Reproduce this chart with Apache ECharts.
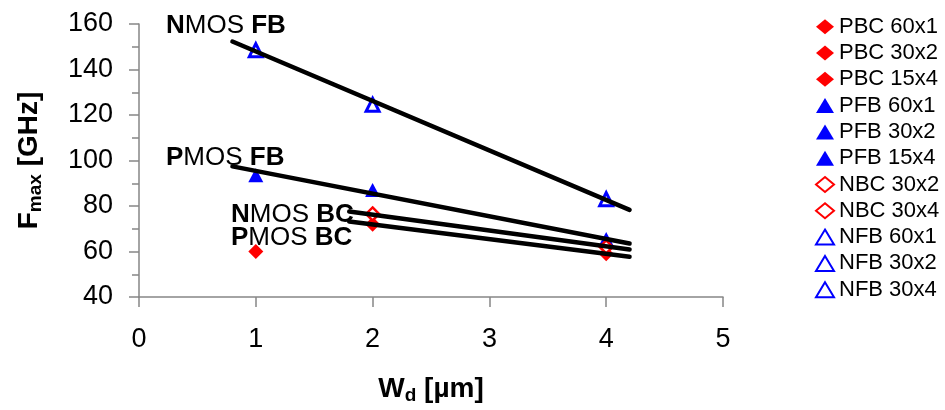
<!DOCTYPE html>
<html>
<head>
<meta charset="utf-8">
<script src="https://cdn.jsdelivr.net/npm/echarts@6/dist/echarts.min.js"></script>
<style>
html,body{margin:0;padding:0;background:#fff;}
#chart{width:945px;height:410px;}
</style>
</head>
<body>
<div id="chart"></div>
<script>
// ---- data ----
const seriesNames = ['PBC 60x1','PBC 30x2','PBC 15x4','PFB 60x1','PFB 30x2','PFB 15x4','NBC 30x2','NBC 30x4','NFB 60x1','NFB 30x2','NFB 30x4'];
const seriesX = [1, 2, 4, 1, 2, 4, 2, 4, 1, 2, 4];
const seriesY = [60, 72, 59, 93.5, 87, 65.5, 76.5, 62, 148.5, 124.5, 83];
const seriesKind = ['pbc','pbc','pbc','pfb','pfb','pfb','nbc','nbc','nfb','nfb','nfb'];

const trendNames = ['NMOS FB', 'PMOS FB', 'NMOS BC', 'PMOS BC'];
const trendX = [[0.8, 4.2], [0.8, 4.2], [1.8, 4.2], [1.8, 4.2]];
const trendY = [[152.3, 78.3], [97.4, 63.5], [77.6, 60.9], [73.2, 57.7]];

const xTicks = [0, 1, 2, 3, 4, 5];
const yTicks = [40, 60, 80, 100, 120, 140, 160];

// ---- styles ----
const FONT = 'Liberation Sans, Arial, Helvetica, sans-serif';
const kindStyle = {
  pbc: {symbol: 'diamond', size: 15, itemStyle: {color: '#FF0000', borderColor: '#FF0000', borderWidth: 0, opacity: 1}},
  pfb: {symbol: 'triangle', size: [15, 14], itemStyle: {color: '#0000FF', borderColor: '#0000FF', borderWidth: 0, opacity: 1}},
  nbc: {symbol: 'diamond', size: 13, itemStyle: {color: '#FFFFFF', borderColor: '#FF0000', borderWidth: 2.5, opacity: 1}},
  nfb: {symbol: 'triangle', size: [13, 13], itemStyle: {color: '#FFFFFF', borderColor: '#0000FF', borderWidth: 3, opacity: 1}}
};

const series = [];
seriesNames.forEach((n, i) => {
  const st = kindStyle[seriesKind[i]];
  series.push({
    type: 'scatter',
    name: n,
    symbol: st.symbol,
    symbolSize: st.size,
    itemStyle: st.itemStyle,
    z: 2,
    data: [[seriesX[i], seriesY[i]]]
  });
});
trendNames.forEach((n, i) => {
  series.push({
    type: 'line',
    name: n,
    data: trendX[i].map((x, j) => [x, trendY[i][j]]),
    symbol: 'none',
    lineStyle: {color: '#000', width: 4.5, cap: 'round'},
    z: 5,
    silent: true
  });
});

const richLbl = {
  b: {fontWeight: 'bold', fontSize: 26, fontFamily: FONT, color: '#000'},
  r: {fontWeight: 'normal', fontSize: 26, fontFamily: FONT, color: '#000'}
};
function lbl(name) {
  const parts = name.split(' ');
  return '{b|' + parts[0][0] + '}{r|' + parts[0].slice(1) + ' }{b|' + parts[1] + '}';
}
const lblPos = [[166, 26], [166, 158], [231, 215], [231, 238]];

const nameRich = {
  b: {fontSize: 28, fontWeight: 'bold', fontFamily: FONT, color: '#000', lineHeight: 32},
  s: {fontSize: 19, fontWeight: 'bold', fontFamily: FONT, color: '#000', verticalAlign: 'bottom', lineHeight: 20}
};

const chart = echarts.init(document.getElementById('chart'), null, {renderer: 'canvas'});
chart.setOption({
  animation: false,
  backgroundColor: '#fff',
  textStyle: {fontFamily: FONT},
  grid: {left: 139, right: 222, top: 24, bottom: 111, containLabel: false},
  xAxis: {
    type: 'value',
    min: xTicks[0], max: xTicks[xTicks.length - 1], interval: 1,
    splitLine: {show: false},
    axisLine: {lineStyle: {color: '#868686', width: 1.5}},
    axisTick: {length: 10, lineStyle: {color: '#868686', width: 1.5}},
    axisLabel: {fontSize: 27, color: '#000', margin: 29, fontFamily: FONT},
    name: '{b|W}{s|d}{b|\u00A0[\u00B5m]}',
    nameLocation: 'middle',
    nameGap: 76,
    nameTextStyle: {rich: nameRich}
  },
  yAxis: {
    type: 'value',
    min: yTicks[0], max: yTicks[yTicks.length - 1], interval: 20,
    splitLine: {show: false},
    axisLine: {show: true, lineStyle: {color: '#868686', width: 1.5}},
    axisTick: {show: true, length: 10, lineStyle: {color: '#868686', width: 1.5}},
    minorTick: {show: true, splitNumber: 2, length: 7, lineStyle: {color: '#868686', width: 1.5}},
    axisLabel: {fontSize: 27, color: '#000', margin: 26, fontFamily: FONT},
    name: '{b|F}{s|max}{b|\u00A0[GHz]}',
    nameLocation: 'middle',
    nameGap: 94,
    nameTextStyle: {rich: nameRich}
  },
  legend: {
    orient: 'vertical',
    left: 810,
    top: 10.7,
    itemWidth: 18,
    itemHeight: 15,
    itemGap: 4.3,
    data: seriesNames,
    textStyle: {fontSize: 22, color: '#000', fontFamily: FONT, lineHeight: 22},
    selectedMode: false
  },
  graphic: trendNames.map((n, i) => ({
    type: 'text',
    x: lblPos[i][0],
    y: lblPos[i][1],
    z: 10,
    style: {text: lbl(n), rich: richLbl, align: 'left', verticalAlign: 'middle'}
  })),
  series: series
});
</script>
</body>
</html>
